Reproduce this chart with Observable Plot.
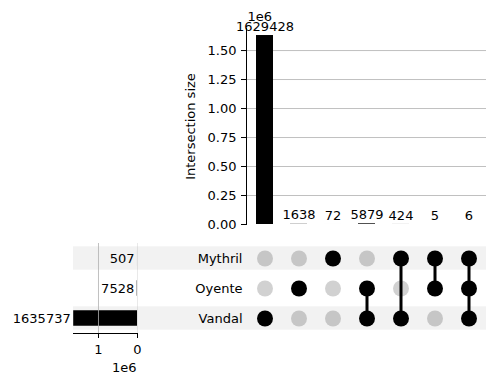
<!DOCTYPE html>
<html>
<head>
<meta charset="utf-8">
<script src="https://cdn.jsdelivr.net/npm/d3@7"></script>
<script src="https://cdn.jsdelivr.net/npm/@observablehq/plot@0.6"></script>
<style>
  body { margin: 0; background: #fff; }
  #chart { position: relative; width: 496px; height: 385px; overflow: hidden; }
  #chart svg { position: absolute; left: 0; }
</style>
</head>
<body>
<div id="chart"></div>
<script>
// ---- data ----
const sets = ["Mythril", "Oyente", "Vandal"];
const setTotals = [507, 7528, 1635737];
const intersectionSizes = [1629428, 1638, 72, 5879, 424, 5, 6];
const intersectionMembers = [
  ["Vandal"],
  ["Oyente"],
  ["Mythril"],
  ["Oyente", "Vandal"],
  ["Mythril", "Vandal"],
  ["Mythril", "Oyente"],
  ["Mythril", "Oyente", "Vandal"]
];
const shadedSets = ["Mythril", "Vandal"];
const sizeTicks = [0, 250000, 500000, 750000, 1000000, 1250000, 1500000];
const totalTicks = [0, 1000000];

// ---- derived tables ----
const inter = intersectionSizes.map((size, i) => ({i, size}));
const cells = [];
intersectionMembers.forEach((m, i) => sets.forEach(s => cells.push({i, set: s, active: m.includes(s)})));
const activeCells = cells.filter(d => d.active);
const inactiveCells = cells.filter(d => !d.active);
const totals = sets.map((set, k) => ({set, total: setTotals[k]}));
const cols = d3.range(intersectionSizes.length);

const font = {fontFamily: "DejaVu Sans", fontSize: "13px", background: "transparent", overflow: "visible"};
const xBand = {type: "band", domain: cols, paddingInner: 0.5, paddingOuter: 0.25, axis: null};

// ---- intersection size bars ----
const barsPlot = Plot.plot({
  width: 496, height: 240,
  marginLeft: 246, marginRight: 10, marginTop: 28, marginBottom: 16,
  style: font,
  x: xBand,
  y: {domain: [0, 1690000], axis: null},
  marks: [
    Plot.gridY({ticks: sizeTicks.filter(t => t > 0), stroke: "#b0b0b0", strokeOpacity: 1, strokeWidth: 0.8}),
    Plot.barY(inter, {x: "i", y: "size", fill: "black"}),
    Plot.frame({anchor: "left", stroke: "black"}),
    Plot.axisY({
      ticks: sizeTicks, tickFormat: d => (d / 1e6).toFixed(2), tickSize: 5, tickPadding: 5,
      label: "Intersection size", labelAnchor: "center", labelArrow: "none", labelOffset: 61
    }),
    Plot.text(inter, {x: "i", y: "size", text: d => String(d.size), dy: -9}),
    Plot.text(["1e6"], {text: d => d, frameAnchor: "top-left", textAnchor: "start", dx: 1, dy: -17})
  ]
});
barsPlot.style.top = "0px";

// ---- matrix ----
const matrixPlot = Plot.plot({
  width: 496, height: 100,
  marginLeft: 73, marginRight: 10, marginTop: 3, marginBottom: 7,
  style: font,
  x: {...xBand, range: [246, 486]},
  y: {type: "band", domain: sets, padding: 0, axis: null},
  marks: [
    Plot.cell(shadedSets, {y: d => d, fill: "black", fillOpacity: 0.05, insetTop: 3.25, insetBottom: 3.25}),
    Plot.dot(inactiveCells, {x: "i", y: "set", r: 8, fill: "black", fillOpacity: 0.18, stroke: null}),
    Plot.line(activeCells, {x: "i", y: "set", z: "i", stroke: "black", strokeWidth: 3}),
    Plot.dot(activeCells, {x: "i", y: "set", r: 8, fill: "black", stroke: null}),
    Plot.text(sets, {y: d => d, text: d => d, frameAnchor: "left", textAnchor: "end", dx: 169})
  ]
});
matrixPlot.style.top = "240px";

// ---- set totals ----
const totalsPlot = Plot.plot({
  width: 496, height: 145,
  marginLeft: 73, marginRight: 359, marginTop: 3, marginBottom: 52,
  style: font,
  x: {domain: [0, 1641000], reverse: true, axis: null},
  y: {type: "band", domain: sets, padding: 0, axis: null},
  marks: [
    Plot.barX(totals, {x: "total", y: "set", fill: "black", insetTop: 7.25, insetBottom: 7.25}),
    Plot.gridX({ticks: [totalTicks[1]], stroke: "#b0b0b0", strokeOpacity: 1, strokeWidth: 0.8}),
    Plot.gridX({ticks: [totalTicks[0]], stroke: "#b0b0b0", strokeOpacity: 0.35, strokeWidth: 0.8}),
    Plot.text(totals, {x: "total", y: "set", text: d => String(d.total), textAnchor: "end", dx: -3}),
    Plot.frame({anchor: "bottom", stroke: "black"}),
    Plot.axisX({ticks: totalTicks, tickFormat: d => String(d / 1e6), tickSize: 5, tickPadding: 6, label: null}),
    Plot.text(["1e6"], {text: d => d, frameAnchor: "bottom-right", textAnchor: "end", dx: -1, dy: 38})
  ]
});
totalsPlot.style.top = "240px";

const chart = document.getElementById("chart");
chart.appendChild(matrixPlot);
chart.appendChild(totalsPlot);
chart.appendChild(barsPlot);
</script>
</body>
</html>
